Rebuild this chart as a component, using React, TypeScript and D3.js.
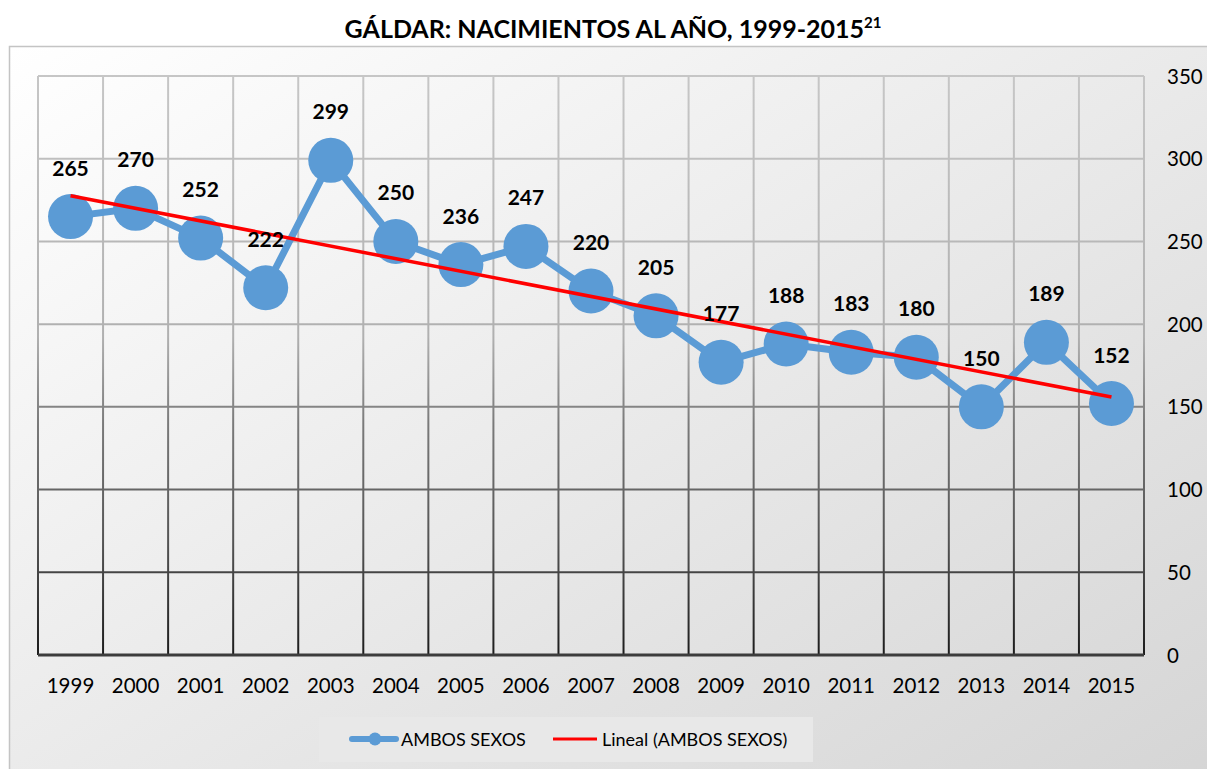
import React from "react";
import * as d3 from "d3";

const years = ["1999","2000","2001","2002","2003","2004","2005","2006","2007","2008","2009","2010","2011","2012","2013","2014","2015"];
const births = [265,270,252,222,299,250,236,247,220,205,177,188,183,180,150,189,152];
const yTicks = [0,50,100,150,200,250,300,350];
const seriesName = "AMBOS SEXOS";
const trendName = "Lineal (AMBOS SEXOS)";

const W = 1207, H = 769;
const plot = { left: 38, right: 1144, top: 76, bottom: 655 };
const FONT = "Lato, 'Open Sans', sans-serif";

export default function App() {
  const x = d3.scaleBand<string>().domain(years).range([plot.left, plot.right]).paddingInner(0).paddingOuter(0);
  const cx = (i: number) => (x(years[i]) as number) + x.bandwidth() / 2;
  const y = d3.scaleLinear().domain([0, 350]).range([plot.bottom, plot.top]);

  // linear regression (Excel "Lineal" trendline)
  const n = births.length;
  const mx = d3.mean(d3.range(n)) as number;
  const my = d3.mean(births) as number;
  const sxy = d3.sum(births, (v, i) => (i - mx) * (v - my));
  const sxx = d3.sum(d3.range(n), (i) => (i - mx) * (i - mx));
  const slope = sxy / sxx;
  const icpt = my - slope * mx;
  const t0 = icpt, t1 = icpt + slope * (n - 1);

  const line = d3.line<number>().x((_, i) => cx(i)).y((d) => y(d));

  const vLines = years.map((yr) => x(yr) as number).concat([plot.right]);

  return (
    <svg width={W} height={H} style={{ position: "absolute", left: 0, top: 0 }} fontFamily={FONT}>
      <defs>
        <linearGradient id="bg" x1="0" y1="0" x2="1" y2="1">
          <stop offset="0" stopColor="#ffffff" />
          <stop offset="0.35" stopColor="#f0f0f0" />
          <stop offset="1" stopColor="#d4d4d4" />
        </linearGradient>
        <linearGradient id="grid" gradientUnits="userSpaceOnUse" x1="0" y1={plot.top} x2="0" y2={plot.bottom}>
          <stop offset="0" stopColor="#c6c6c6" />
          <stop offset="0.45" stopColor="#b0b0b0" />
          <stop offset="0.6" stopColor="#7a7a7a" />
          <stop offset="0.8" stopColor="#555555" />
          <stop offset="1" stopColor="#1c1c1c" />
        </linearGradient>
      </defs>
      <rect x={0} y={0} width={W} height={H} fill="#ffffff" />
      <rect x={9.5} y={46.5} width={W + 10} height={H} fill="url(#bg)" stroke="#c4c4c4" strokeWidth={1.5} />

      {/* title */}
      <text x={613} y={38} textAnchor="middle" fontWeight="bold" fontSize={25} fill="#000">
        GÁLDAR: NACIMIENTOS AL AÑO, 1999-2015
        <tspan fontSize={15} dy={-10}>21</tspan>
      </text>

      {/* gridlines */}
      {yTicks.filter((t) => t > 0).map((t) => (
        <line key={"h" + t} x1={plot.left} x2={plot.right} y1={y(t)} y2={y(t)} stroke="url(#grid)" strokeWidth={2} />
      ))}
      {vLines.map((vx, i) => (
        <line key={"v" + i} x1={vx} x2={vx} y1={plot.top} y2={plot.bottom} stroke="url(#grid)" strokeWidth={2} />
      ))}
      <line x1={plot.left} x2={plot.right} y1={plot.bottom} y2={plot.bottom} stroke="#3c3c3c" strokeWidth={3} />

      {/* axis labels */}
      {years.map((yr, i) => (
        <text key={yr} x={cx(i)} y={693} textAnchor="middle" fontSize={20.5} fill="#000">{yr}</text>
      ))}
      {yTicks.map((t) => (
        <text key={"t" + t} x={1167} y={y(t) + 7.5} textAnchor="start" fontSize={20.5} fill="#000">{t}</text>
      ))}

      {/* series */}
      <path d={line(births) as string} fill="none" stroke="#5b9bd5" strokeWidth={7} strokeLinejoin="round" />
      {births.map((v, i) => (
        <circle key={"c" + i} cx={cx(i)} cy={y(v)} r={22.5} fill="#5b9bd5" />
      ))}

      {/* trendline */}
      <line x1={cx(0)} y1={y(t0)} x2={cx(n - 1)} y2={y(t1)} stroke="#ff0000" strokeWidth={3.5} />

      {/* data labels */}
      {births.map((v, i) => (
        <text key={"l" + i} x={cx(i)} y={y(v) - 41} textAnchor="middle" fontWeight="bold" fontSize={21} fill="#000">{v}</text>
      ))}

      {/* legend */}
      <rect x={319} y={717} width={494} height={45} fill="#e8e8e8" />
      <line x1={352} x2={396} y1={739} y2={739} stroke="#5b9bd5" strokeWidth={6} strokeLinecap="round" />
      <circle cx={375} cy={739} r={6.5} fill="#5b9bd5" />
      <text x={401} y={746} fontSize={18} fill="#000">{seriesName}</text>
      <line x1={553} x2={597} y1={739} y2={739} stroke="#ff0000" strokeWidth={3} />
      <text x={602} y={746} fontSize={18} fill="#000">{trendName}</text>
    </svg>
  );
}
